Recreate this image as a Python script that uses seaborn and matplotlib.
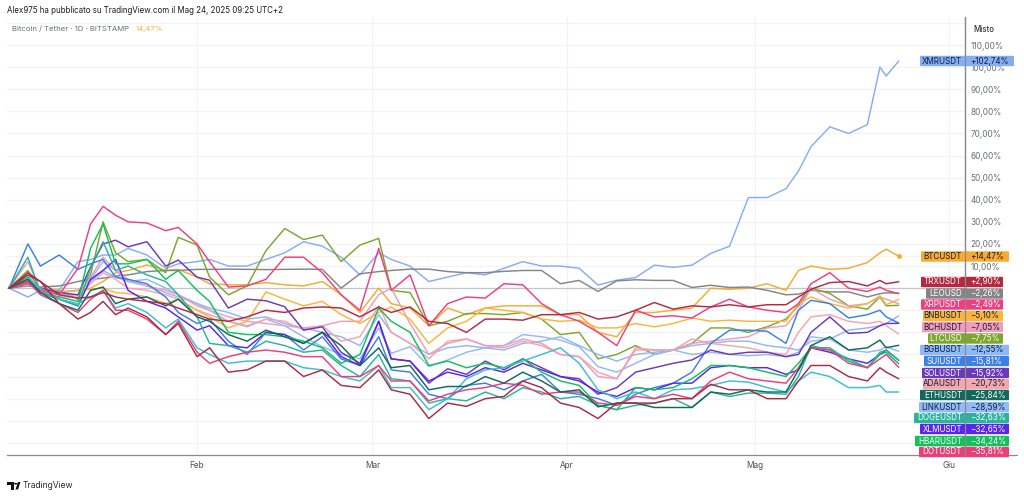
"""
Bitcoin / Tether comparison chart, percent change since start of the year.
"""
import matplotlib
matplotlib.use('Agg')
import matplotlib.pyplot as plt
from matplotlib.lines import Line2D
from matplotlib.patches import FancyBboxPatch, Polygon, Circle
import pandas as pd
import seaborn as sns

W, H = 1024, 497

days = [0, 3, 5, 8, 11, 13, 15, 17, 19, 22, 25, 27, 30,
        32, 35, 38, 41, 44, 47, 50, 53, 56, 59,
        61, 64, 67, 70, 73, 76, 79, 82, 85, 88,
        91, 94, 97, 100, 103, 106, 109, 112, 115, 118,
        121, 124, 126, 128, 131, 134, 137, 139, 140, 142]

xmr = [0, -4, -1, -1, 12, 13, 15, 15, 18, 15, 9, 11, 12,
       13, 10, 10, 13, 16, 21, 19, 14, 6, 16,
       13, 10, 3, 5, 7, 6, 9, 12, 10, 10,
       9, 1.4, 3.6, 4.8, 10.4, 9.4, 10.4, 15.7, 19, 41,
       41, 45, 53, 64, 73, 70, 74, 100, 96, 102.74]
btc = [1, 2.5, 0, -2, -1, 0, 3, 7, 8, 10.5, 8, 8.5, 5,
       2, 1.5, 1.5, 2.5, 1.5, 1, 3, -3, -11, 0,
       -7, -9, -17, -9, -12, -9, -8, -8, -8, -12,
       -12, -20, -22, -11, -11, -10, -9, 0, -0.5, 0,
       2, -1, 8, 10, 8.5, 9, 11.6, 16, 17.6, 14.47]
trx = [0, 6, 3, -3, -4.5, -4, -2, -4, -5, -6, -7, -9, -12,
       -14, -15, -13, -10, -11, -9, -8.5, -9, -13, -8.5,
       -11, -8.5, -15, -16, -20, -14, -14, -14.5, -12, -12,
       -11, -14, -13, -10, -6.5, -9.5, -8, -8.5, -7.5, -8.5,
       -7.5, -7.5, -4, -0.5, 2.5, 3, 1, 3.5, 2, 2.9]
leo = [0, 1, 0.5, 1, 3, 4, 4.5, 5.5, 6, 7.5, 8, 8, 8.5,
       8.5, 8.6, 8.5, 8.4, 8.5, 8.6, 8.5, 0, 6.5, 7.5,
       8, 8.6, 8.6, 7.5, 7, 7, 7.6, 8, 8, 2,
       3.5, -1.5, 3.3, 3.8, 3.5, 3.5, 0.3, 1.3, 0.3, 0.5,
       -1, -3, -2.7, -1, -1.7, -1.7, -4, -2.5, -2.1, -2.26]
xrp = [0, 2, -1, -3, 9, 29, 37, 33, 30, 29.5, 26, 27.5, 20,
       12, 0.5, 1, 4, 14, 14, 7, -3, -10, 18,
       -1, 6, -17, -7, -4, -4.5, 2, 1.5, -7, -12,
       -15, -20, -26, -10, -13, -12.5, -13.5, -8.5, -5, -8.5,
       -10, -11, -7, 2, 7, 0, -1.5, 0.5, -1, -2.49]
bnb = [1, 2, -1, -1.5, -1, -0.5, 0, -2, -2.4, -4, -7, -5, -10,
       -13, -18, -15, -1.7, -5, -8, -6, -12, -16, -11,
       -8.5, -14, -25, -18, -15, -9, -10, -11, -14, -15,
       -14.5, -18, -18, -16, -17.5, -16, -13.5, -15, -14.5, -15,
       -15, -15, -7, -4, -7, -9, -7, -3.5, -7.5, -5.1]
bch = [0, 12, -1, -3, -3, 5, 14, 8, 4, 1, -1, -3, -8,
       -10, -13, -15, -16, -17, -18, -17, -15, -15, -3,
       0, -16, -30, -25, -23, -26, -26, -23, -25, -30,
       -31, -40, -41, -27, -28, -28, -25, -24, -23, -22,
       -18, -17, -10, 0, -5, -8, -7, -4, -5, -7.05]
ltc = [0, 8, -1, -1, -5, 6, 30, 16, 12, 13, 7, 23, 19.5,
       5, -3, 1, 17, 27, 22, 24, 12, 19.5, 22.5,
       -1, -2, -17, -15, -11.5, -11.5, -12, -11, -14, -21,
       -20, -32, -30, -26, -30, -28, -25, -18, -18, -20,
       -17.5, -14, -8, 0, -2.4, -8, -9.5, -4, -8, -7.75]
bgb = [0, 3, -2, -2, -1, 3, 8, 5, 3, 4, 0, -3, -7,
       -9, -11, -14, -13, -16, -18, -20, -22, -26, -12,
       -20, -25, -30, -27, -26, -27, -28, -25, -24, -22,
       -26, -30, -33, -30, -29, -28, -26, -25, -24, -24,
       -26, -27, -28, -24, -23, -19, -18, -17, -16, -12.55]
sui = [0, 20, 10, 15, 8.5, 11, 13, 5, 4, 2, -4, -11, -16,
       -14, -24, -30, -20, -21, -28, -22, -32, -35, -22,
       -37, -38, -48, -50, -44, -43, -46, -42, -39, -47,
       -48, -50, -53, -48, -45, -43, -38, -25, -19, -19,
       -19.5, -25, -10, -5.5, -7, -13.5, -12, -10, -13, -15.81]
sol = [0, 4, 0, -2, -3, 9.6, 20, 21.7, 18.7, 21, 10, 12.7, 5,
       3.6, -9, -5, -5.7, -8.4, -19, -17.5, -29, -34, -15,
       -32, -33, -43, -36.5, -39, -33, -37, -32, -36, -40,
       -41, -48, -45, -38, -36, -34, -32.5, -28, -30, -29,
       -29, -31, -30, -20, -13, -20.5, -20, -17, -16, -15.92]
ada = [0, 4, -2, -4, -4, 2, 7, 4, 0, -1, -3, -5, -10,
       -12, -15, -17, -14, -15, -19, -17, -24, -22, -8,
       -20, -25, -32, -24, -23, -26, -27, -24, -26, -30,
       -31, -38, -41, -28, -28, -28, -23, -25, -26, -27,
       -29, -30, -20, -13, -12, -15, -16, -15, -17, -20.73]
eth = [0, 4, -2, -7, -10, -1, 0.5, -7, -5, -4, -8, -5, -13,
       -15, -21, -24, -19, -22, -25, -20, -26, -35, -27,
       -36, -35, -46, -44.5, -44.5, -40, -43, -38, -42, -47,
       -46, -53.7, -52, -52, -54, -54, -54, -47, -48, -46,
       -47, -47, -37, -26, -22, -28, -27, -23.5, -27, -25.84]
link = [0, 6, -1, -3, -3, 4, 12, 8, 3, 1, -2, -4, -7,
        -10, -15, -17.5, -14, -17, -22, -26.5, -30, -32, -18,
        -29.5, -26.5, -35.5, -32.5, -29, -27, -26, -21, -22, -23.5,
        -26.5, -35.5, -38, -34, -30, -28, -30, -29, -30, -30.6,
        -30, -31, -29, -22, -23, -28, -29, -28, -26.5, -28.59]
doge = [0, 14, -2, -5, -8, 9, 21, 8, 10, 6, 3, -3, -13,
        -25, -26, -29, -24, -26, -29, -28, -35, -40, -30,
        -41, -42, -52, -50, -51, -47, -50, -45, -47, -50,
        -49, -53, -55, -53, -52, -50, -54, -47, -49, -47.5,
        -47.5, -48, -40, -26, -28, -32, -36, -29, -28, -32.63]
xlm = [0, 3, -2, -5, -8, 4, 8, 13, -1, -6, -9, -13, -19,
       -17, -26, -27, -20, -21, -25, -20, -31, -35, -15,
       -32, -33, -42, -38, -40, -36, -38, -34, -37, -40,
       -42, -47, -49, -45, -46, -43, -43, -36, -35, -36,
       -36, -39, -37, -27, -29, -32, -34, -30, -28, -32.65]
hbar = [0, 5, -2, -4, -6, 18, 29, 11, 11, 13, 4, 8, -1,
        -6, -20, -21, -21, -22, -24, -27, -34, -30, -9,
        -15, -20, -35, -33, -36, -34, -36, -32, -38, -42,
        -44, -53, -55, -45, -46, -45, -41, -35, -35, -36,
        -38, -40, -34, -27, -27, -33, -36, -30, -29, -34.24]
dot = [0, 3, -3, -7, -11, -5, -1, -10, -10, -14, -21, -15, -29,
       -34, -31, -29, -28, -29, -31, -31, -40, -40, -35,
       -42, -42, -51, -48, -46, -45, -43, -44, -48, -47,
       -47, -52, -53, -49, -50, -48, -50, -42, -38, -41,
       -42, -43, -36, -27, -28, -34, -36, -32, -30, -35.81]
# the two lowest lines: their labels are cut off below the axis in the original
low_red = [0, 7, 3, -7, -14, -11, -6, -12, -9, -13, -21, -16, -31,
           -27, -38, -37, -33, -33, -40, -37, -44, -45, -37,
           -46, -48, -59, -52, -53.5, -50, -49, -42, -45, -52,
           -54, -59, -52, -52, -52, -50, -50, -43.5, -46, -46,
           -50, -50, -42, -35, -35, -40, -42, -36, -38, -41]
low_cyan = [0, 4, 0, -5, -7, -4, -1, -9, -7, -11, -18, -14, -27,
            -30, -34, -33, -33, -33, -36, -37, -40, -42, -35,
            -45, -45, -55, -50, -41, -37, -36, -33, -30, -27,
            -34, -46, -50, -47, -50, -46, -45.5, -44, -42, -42.5,
            -45, -47, -42, -38, -40, -45, -45, -44, -47, -47]

symbols = ['BTCUSDT', 'XMRUSDT', 'LEOUSD', 'LTCUSD', 'BGBUSDT', 'LINKUSDT',
           'ADAUSDT', 'BCHUSDT', 'BNBUSDT', 'SUIUSDT', 'SOLUSDT', 'XLMUSDT',
           'HBARUSDT', 'DOGEUSDT', 'LOWCYAN', 'DOTUSDT', 'XRPUSDT', 'ETHUSDT',
           'TRXUSDT', 'LOWRED']
series = [btc, xmr, leo, ltc, bgb, link, ada, bch, bnb, sui, sol, xlm,
          hbar, doge, low_cyan, dot, xrp, eth, trx, low_red]
colors = ['#f9a92f', '#86aef5', '#858585', '#7ea62f', '#8fb8f7', '#94baf6',
          '#f5a5ac', '#f09cbb', '#fbb53a', '#3c80e6', '#6b3ab8', '#5a25ee',
          '#12c05c', '#2bb39c', '#3dbdd0', '#ea4079', '#ee3f80', '#12695a',
          '#b32a40', '#a82c44']

# price scale stack on the right, top to bottom
label_names = ['XMRUSDT', 'BTCUSDT', 'TRXUSDT', 'LEOUSD', 'XRPUSDT', 'BNBUSDT',
               'BCHUSDT', 'LTCUSD', 'BGBUSDT', 'SUIUSDT', 'SOLUSDT', 'ADAUSDT',
               'ETHUSDT', 'LINKUSDT', 'DOGEUSDT', 'XLMUSDT', 'HBARUSDT', 'DOTUSDT']
label_y = [61, 256.5, 282, 293.5, 304.5, 316, 327, 338.5, 350, 361, 373, 384,
           395, 407, 418, 429, 441, 452]
label_left = [920, 921, 921, 926, 921, 923, 922, 928, 920, 924, 922, 923,
              920, 919, 914, 920, 915, 919]
label_right = [1014, 1009, 1003, 1003, 1003, 1003, 1003, 1003, 1009, 1009, 1009,
               1009, 1009, 1009, 1009, 1009, 1009, 1009]
dark_text = ['XMRUSDT', 'BTCUSDT', 'BNBUSDT', 'BCHUSDT', 'BGBUSDT', 'ADAUSDT', 'LINKUSDT']

month_dates = ['2025-02-01', '2025-03-01', '2025-04-01', '2025-05-01', '2025-06-01']
month_labels = ['Feb', 'Mar', 'Apr', 'Mag', 'Giu']
grid_levels = list(range(-70, 130, 10))
shown_levels = list(range(10, 120, 10))

start = pd.Timestamp('2025-01-02')
dates = [start + pd.Timedelta(days=d) for d in days]
rows = []
for sym, vals in zip(symbols, series):
    rows.append(pd.DataFrame({'date': dates, 'change': vals, 'symbol': sym}))
df = pd.concat(rows)

sns.set_theme(style='white')
plt.rcParams['font.family'] = ['Inter', 'DejaVu Sans']

fig = plt.figure(figsize=(W / 100, H / 100), dpi=100, facecolor='white')
ax = fig.add_axes([7 / W, 1 - 455 / H, (964.5 - 7) / W, (455 - 17) / H])

sns.lineplot(data=df, x='date', y='change', hue='symbol', hue_order=symbols,
             palette=colors, linewidth=1.05, estimator=None, sort=False,
             legend=False, ax=ax, zorder=3)
last_btc = df[(df.symbol == 'BTCUSDT') & (df.date == dates[-1])]
sns.scatterplot(data=last_btc, x='date', y='change', color=colors[0], s=12,
                linewidth=0, legend=False, ax=ax, zorder=4)

ax.set_xlim(start - pd.Timedelta(hours=8), start + pd.Timedelta(days=152.5))
ax.set_ylim(-75.5, 122.7)
ax.set_xlabel('')
ax.set_ylabel('')

ax.set_xticks(pd.to_datetime(month_dates))
ax.set_xticklabels(month_labels, fontsize=5.9, color='#4a4d57')
ax.yaxis.tick_right()
ax.set_yticks(grid_levels)
ax.set_yticklabels([f'{v},00%' if v in shown_levels else '' for v in grid_levels],
                   fontsize=5.9, color='#6a6d78')
ax.tick_params(axis='x', length=0, pad=4.5)
ax.tick_params(axis='y', length=0, pad=4.5)
ax.grid(True, color='#f0f3fa', linewidth=0.9)
ax.set_axisbelow(True)
ax.axhline(0, color='#c4c6cc', linewidth=0.9, zorder=1)
ax.axhline(btc[-1], color=colors[0], linewidth=0.6, linestyle=':', alpha=0.45, zorder=1)

for side in ['top', 'left']:
    ax.spines[side].set_visible(False)
ax.spines['right'].set_color('#8a8b90')
ax.spines['bottom'].set_color('#8a8b90')
ax.spines['right'].set_linewidth(0.9)
ax.spines['bottom'].set_linewidth(0.9)
fig.add_artist(Line2D([964.5 / W, 1017 / W], [1 - 455 / H, 1 - 455 / H],
                      color='#8a8b90', linewidth=0.9))


def px_text(x, y, s, **kw):
    fig.text(x / W, 1 - y / H, s, va='center', **kw)


# labels on the price scale
for name, y, left, right in zip(label_names, label_y, label_left, label_right):
    idx = symbols.index(name)
    col = colors[idx]
    box = FancyBboxPatch((left / W, 1 - (y + 5.2) / H), (right - left) / W, 10.4 / H,
                         boxstyle='round,pad=0,rounding_size=0.0015',
                         transform=fig.transFigure, facecolor=col, edgecolor='none',
                         zorder=5)
    fig.add_artist(box)
    txt = '#10203a' if name in dark_text else 'white'
    value = f'{series[idx][-1]:+.2f}'.replace('.', ',').replace('-', '\u2212') + '%'
    px_text(962, y, name, ha='right', fontsize=5.8, color=txt, zorder=6)
    px_text(970, y, value, ha='left', fontsize=5.8, color=txt, zorder=6)
fig.add_artist(Line2D([964.5 / W, 964.5 / W], [1 - 455 / H, 1 - 17 / H],
                      color='#8a8b90', linewidth=0.9, zorder=7))

# header
px_text(7, 10.5, 'Alex975 ha pubblicato su TradingView.com il Mag 24, 2025 09:25 UTC+2',
        fontsize=5.7, color='#1a1b20')
px_text(12, 28.5, 'Bitcoin / Tether \u00b7 1D \u00b7 BITSTAMP', fontsize=5.6, color='#6a6d78')
px_text(136, 28.5, '14,47%', fontsize=5.6, color='#f7b13c')
px_text(973, 29, 'Misto', fontsize=5.7, color='#33353c', fontweight='medium')

# TradingView logo
fig.add_artist(Polygon([(7 / W, 1 - 482 / H), (14 / W, 1 - 482 / H), (14 / W, 1 - 489.5 / H),
                        (10.5 / W, 1 - 489.5 / H), (10.5 / W, 1 - 485 / H), (7 / W, 1 - 485 / H)],
                       transform=fig.transFigure, facecolor='#111111', edgecolor='none'))
fig.add_artist(Circle((15.7 / W, 1 - 483.7 / H), 0.0017,
                      transform=fig.transFigure, facecolor='#111111', edgecolor='none'))
fig.add_artist(Polygon([(15.5 / W, 1 - 489.5 / H), (18 / W, 1 - 482 / H), (20.5 / W, 1 - 482 / H),
                        (18 / W, 1 - 489.5 / H)],
                       transform=fig.transFigure, facecolor='#111111', edgecolor='none'))
px_text(23, 486, 'TradingView', fontsize=6.2, color='#2a2b30')

fig.savefig('out.png', dpi=100, facecolor='white')
